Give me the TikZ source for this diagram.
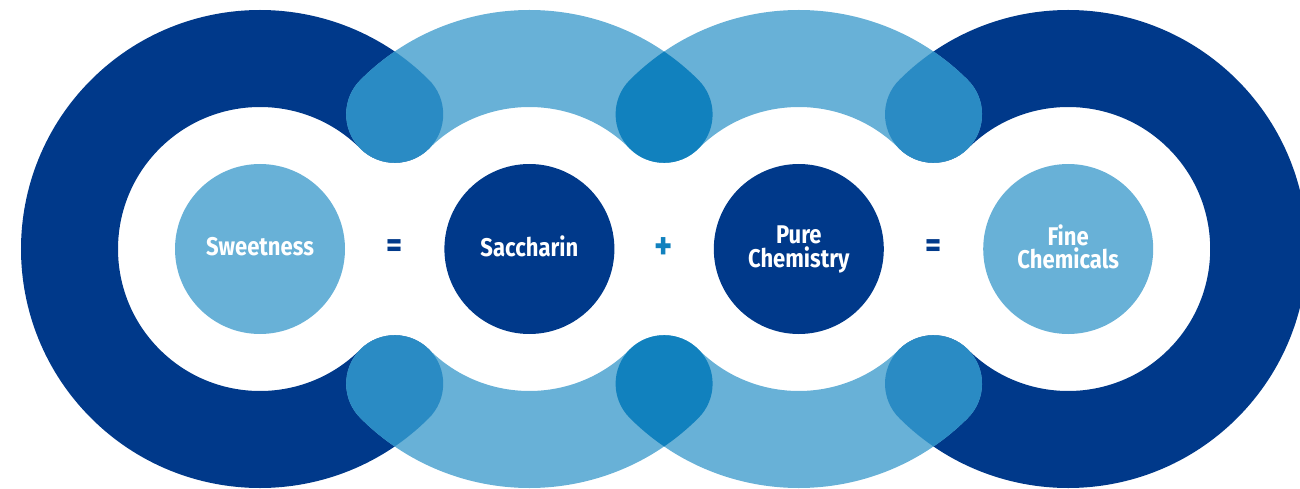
\documentclass[tikz,border=0pt]{standalone}
\usepackage{fontspec}
\newfontfamily\labelfont[FakeStretch=0.86]{Fira Sans}
\usetikzlibrary{positioning, calc}

\definecolor{ringdark}{RGB}{0,57,138}
\definecolor{ringlight}{RGB}{104,177,215}
\definecolor{mixdark}{RGB}{42,139,196}
\definecolor{mixlight}{RGB}{17,129,190}

% outline of one thick ring piece with round ends: centre node, start, end
\newcommand{\bandpath}[3]{($(#1.center)+(#2:239)$)
  arc[start angle=#2, end angle=#3, radius=239]
  arc[start angle=#3, end angle=#3+180, radius=48.5]
  arc[start angle=#3, end angle=#2, radius=142]
  arc[start angle=#2+180, end angle=#2+360, radius=48.5] -- cycle}

\tikzset{
  ring/.style={line width=48.5pt, line cap=round},
  disc/.style={circle, minimum size=85pt, inner sep=0pt, text=white, align=center,
    text depth=2.5pt, font=\labelfont\bfseries\fontsize{12.8}{11.7}\selectfont},
  lightdisc/.style={disc, fill=ringlight},
  darkdisc/.style={disc, fill=ringdark},
  sign/.style={font=\labelfont\bfseries\fontsize{18}{18}\selectfont, inner sep=0pt}
}

\begin{document}
\begin{tikzpicture}[x=0.5pt, y=0.5pt, node distance=134.7pt, on grid]
    \path[use as bounding box, clip] (0,0) rectangle (1300,488);

    % Les quatre disques
    \node[lightdisc] (sweet) at (260,239) {Sweetness};
    \node[darkdisc, right=of sweet] (sacch) {Saccharin};
    \node[darkdisc, right=of sacch] (pure) {Pure\\Chemistry};
    \node[lightdisc, right=of pure] (fine) {Fine\\Chemicals};

    % Les signes
    \node[sign, text=ringdark] (eq1) at ($(sweet)!0.5!(sacch)$) {=};
    \node[sign, text=mixlight, font=\labelfont\bfseries\fontsize{20}{20}\selectfont] (plus) at ($(sacch)!0.5!(pure)$) {+};
    \node[sign, text=ringdark] (eq2) at ($(pure)!0.5!(fine)$) {=};

    % Les anneaux
    \draw[ring, ringdark] ($(sweet.center)+(45:190.5)$) arc[start angle=45, end angle=315, radius=190.5];
    \draw[ring, ringdark] ($(fine.center)+(-135:190.5)$) arc[start angle=-135, end angle=135, radius=190.5];
    \foreach \c in {sacch, pure} {
        \draw[ring, ringlight] ($(\c.center)+(45:190.5)$) arc[start angle=45, end angle=135, radius=190.5];
        \draw[ring, ringlight] ($(\c.center)+(225:190.5)$) arc[start angle=225, end angle=315, radius=190.5];
    }

    % Les recouvrements
    \foreach \a/\s/\e/\b/\p/\q/\col in {
        sacch/45/135/sweet/45/315/mixdark, sacch/225/315/sweet/45/315/mixdark,
        pure/45/135/sacch/45/135/mixlight, pure/225/315/sacch/225/315/mixlight,
        pure/45/135/fine/-135/135/mixdark, pure/225/315/fine/-135/135/mixdark} {
        \begin{scope}
            \clip \bandpath{\a}{\s}{\e};
            \draw[ring, \col] ($(\b.center)+(\p:190.5)$) arc[start angle=\p, end angle=\q, radius=190.5];
        \end{scope}
    }
\end{tikzpicture}
\end{document}
